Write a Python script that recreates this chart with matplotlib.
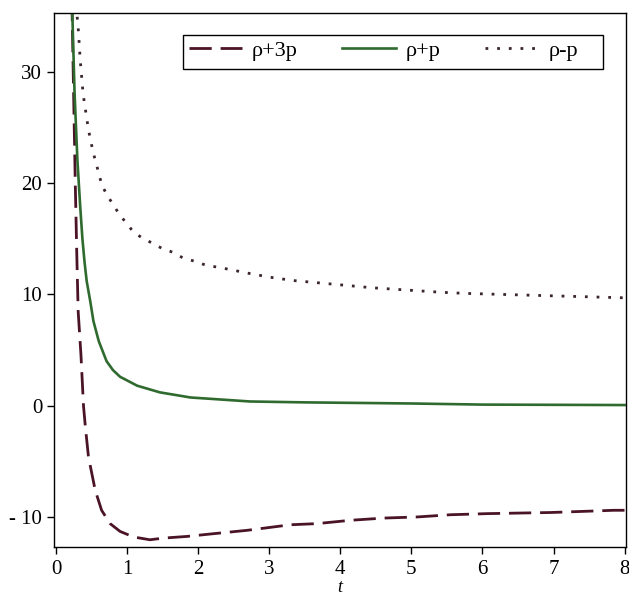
import matplotlib
matplotlib.use("Agg")
import matplotlib.pyplot as plt
from matplotlib.patches import Rectangle

# rho + 3p (dashed)
t_a = [0.22, 0.27, 0.29, 0.31, 0.35, 0.385, 0.41, 0.455, 0.55, 0.64, 0.76, 0.90, 1.09, 1.32, 1.51,
       1.84, 2.22, 2.69, 3.30, 3.67, 4.14, 4.61, 5.08, 5.55, 6.07, 6.96, 7.85, 8.0]
v_a = [37.0, 19.8, 13.8, 8.5, 4.5, 0.0, -1.8, -4.6, -7.6, -9.4, -10.6, -11.3, -11.8, -12.05, -11.9,
       -11.75, -11.5, -11.2, -10.7, -10.6, -10.3, -10.1, -10.0, -9.8, -9.7, -9.6, -9.4, -9.4]

# rho + p (solid green)
t_b = [0.22, 0.26, 0.30, 0.34, 0.37, 0.40, 0.43, 0.48, 0.525, 0.60, 0.71, 0.80, 0.90, 1.14, 1.46,
       1.89, 2.73, 3.5, 5.0, 6.0, 7.0, 8.0]
v_b = [37.0, 28.0, 22.0, 17.8, 15.0, 12.9, 11.2, 9.4, 7.6, 5.8, 4.0, 3.2, 2.6, 1.8, 1.2,
       0.74, 0.38, 0.3, 0.2, 0.1, 0.08, 0.06]

# rho - p (dotted)
t_c = [0.28, 0.31, 0.34, 0.38, 0.455, 0.52, 0.60, 0.64, 0.71, 0.80, 0.89, 0.99, 1.09, 1.23, 1.36,
       1.50, 1.64, 1.78, 1.94, 2.10, 2.40, 2.71, 3.01, 3.34, 3.65, 4.45, 5.41, 5.74, 6.86, 7.99]
v_c = [36.0, 34.0, 31.0, 28.0, 24.8, 22.8, 20.9, 19.9, 19.0, 18.1, 17.2, 16.4, 15.6, 15.0, 14.6,
       14.1, 13.8, 13.3, 13.0, 12.65, 12.3, 11.9, 11.55, 11.25, 11.07, 10.6, 10.2, 10.1, 9.9, 9.7]

labels = ["ρ+3p", "ρ+p", "ρ-p"]
xticks = [0, 1, 2, 3, 4, 5, 6, 7, 8]
yticks = [-10, 0, 10, 20, 30]
ytick_labels = ["- 10", "0", "10", "20", "30"]

plt.rcParams['font.family'] = ['Liberation Serif', 'DejaVu Serif']

W, H = 629, 596
fig = plt.figure(figsize=(W / 100, H / 100), dpi=100)
ax = fig.add_axes([54/W, 1 - 547/H, (626 - 54)/W, (547 - 13)/H])

ax.plot(t_a, v_a, color="#4a1426", lw=2.0, dashes=(8, 3.2), label=labels[0])
ax.plot(t_b, v_b, color="#2f6a2f", lw=1.9, label=labels[1])
ax.plot(t_c, v_c, color="#3a2530", lw=2.0, linestyle=(0, (1, 3.2)), label=labels[2])

ax.set_xlim(-0.03, 8.02)
ax.set_ylim(-12.7, 35.3)
ax.set_xticks(xticks)
ax.set_xticklabels([str(x) for x in xticks])
ax.set_yticks(yticks)
ax.set_yticklabels(ytick_labels)
ax.tick_params(direction='out', length=5, width=1, labelsize=15, colors='black')
ax.tick_params(axis='x', pad=4)
for s in ax.spines.values():
    s.set_linewidth(1.0)
    s.set_color('black')
ax.set_xlabel("t", fontsize=13, style='italic', labelpad=0)

# legend frame drawn to match the reference box
ax.add_patch(Rectangle((183/W, 1 - 69/H), (603 - 183)/W, (69 - 35)/H,
                       transform=fig.transFigure, facecolor='white', edgecolor='black',
                       linewidth=1.0, zorder=4, clip_on=False))
leg = ax.legend(loc='upper left', bbox_to_anchor=(183/W, 1 - 35/H), bbox_transform=fig.transFigure,
                ncol=3, fontsize=16, handlelength=2.4, handletextpad=0.45, columnspacing=2.0,
                borderpad=0.25, borderaxespad=0, frameon=False)
leg.set_zorder(5)

fig.savefig("out.png", dpi=100)
